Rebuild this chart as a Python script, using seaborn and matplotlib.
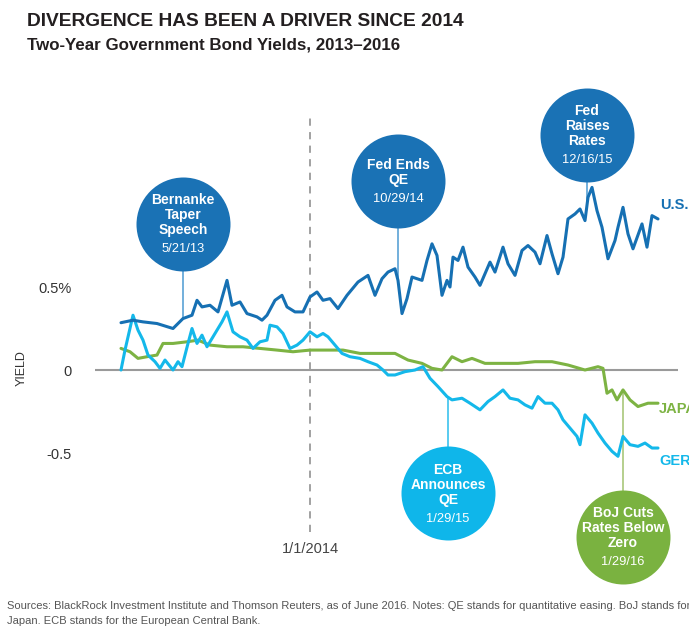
import matplotlib
matplotlib.use("Agg")
import matplotlib.pyplot as plt
import seaborn as sns
import numpy as np
import pandas as pd

# ---------------- data (time axis in relative units, 0 = start of 2013) -------------
us_t = [0, 12, 22, 36, 52, 62, 71, 76, 81, 89, 97, 106, 111, 119, 126, 136, 141, 146,
        154, 161, 166, 174, 182, 189, 196, 202, 209, 217, 226, 237, 247, 254, 261, 267,
        274, 277, 281, 286, 291, 301, 306, 311, 316, 321, 326, 329, 332, 337, 342, 347,
        354, 359, 364, 369, 374, 382, 387, 394, 401, 407, 414, 419, 426, 431, 437, 442,
        447, 454, 459, 464, 467, 471, 476, 481, 487, 494, 497, 502, 507, 512, 521, 526,
        531, 537]
us_yield = [0.285, 0.30, 0.29, 0.28, 0.25, 0.31, 0.33, 0.42, 0.38, 0.39, 0.35, 0.54,
            0.39, 0.41, 0.34, 0.32, 0.30, 0.33, 0.42, 0.45, 0.38, 0.35, 0.35, 0.44, 0.47,
            0.42, 0.43, 0.37, 0.45, 0.53, 0.57, 0.45, 0.55, 0.59, 0.61, 0.54, 0.34, 0.43,
            0.56, 0.54, 0.66, 0.76, 0.69, 0.45, 0.54, 0.50, 0.68, 0.66, 0.74, 0.62, 0.56,
            0.51, 0.58, 0.65, 0.59, 0.74, 0.64, 0.57, 0.72, 0.75, 0.71, 0.64, 0.81, 0.70,
            0.58, 0.68, 0.91, 0.94, 0.97, 0.90, 1.04, 1.10, 0.96, 0.86, 0.67, 0.78, 0.86,
            0.98, 0.82, 0.73, 0.88, 0.74, 0.93, 0.91]

de_t = [0, 4, 12, 17, 22, 27, 34, 39, 44, 52, 57, 61, 67, 71, 76, 81, 86, 92, 101, 106,
        112, 119, 126, 132, 139, 146, 149, 156, 162, 169, 176, 182, 189, 196, 202, 207,
        214, 221, 229, 239, 247, 256, 262, 267, 274, 284, 294, 302, 309, 317, 326, 331,
        341, 349, 359, 367, 374, 382, 389, 397, 404, 411, 417, 424, 431, 437, 442, 449,
        456, 459, 464, 471, 477, 484, 491, 497, 502, 509, 517, 524, 531, 537]
de_yield = [0.0, 0.12, 0.33, 0.24, 0.18, 0.09, 0.05, 0.01, 0.06, 0.0, 0.05, 0.02, 0.16,
            0.25, 0.16, 0.21, 0.14, 0.20, 0.29, 0.35, 0.23, 0.20, 0.18, 0.13, 0.17, 0.18,
            0.27, 0.26, 0.22, 0.13, 0.15, 0.18, 0.23, 0.20, 0.22, 0.20, 0.15, 0.10, 0.08,
            0.07, 0.05, 0.03, 0.0, -0.03, -0.03, -0.01, 0.0, 0.02, -0.05, -0.10, -0.16,
            -0.18, -0.17, -0.20, -0.24, -0.19, -0.16, -0.12, -0.17, -0.18, -0.21, -0.23,
            -0.16, -0.20, -0.20, -0.24, -0.30, -0.35, -0.40, -0.45, -0.27, -0.32, -0.38,
            -0.44, -0.49, -0.52, -0.40, -0.45, -0.46, -0.44, -0.47, -0.47]

jp_t = [0, 9, 17, 26, 36, 42, 52, 66, 77, 89, 106, 122, 139, 156, 172, 189, 206, 222,
        239, 256, 267, 274, 287, 301, 311, 321, 331, 341, 351, 364, 381, 397, 414, 431,
        447, 464, 477, 482, 486, 491, 496, 502, 509, 517, 527, 537]
jp_yield = [0.13, 0.11, 0.07, 0.08, 0.09, 0.16, 0.16, 0.17, 0.18, 0.15, 0.14, 0.14, 0.13,
            0.12, 0.11, 0.12, 0.12, 0.12, 0.10, 0.10, 0.10, 0.10, 0.06, 0.04, 0.01, 0.0,
            0.08, 0.05, 0.07, 0.04, 0.04, 0.04, 0.05, 0.05, 0.03, 0.0, 0.02, 0.01, -0.14,
            -0.12, -0.18, -0.12, -0.18, -0.22, -0.20, -0.20]

countries = ["JAPAN", "GERMANY", "U.S."]
y_ticks = [0.5, 0, -0.5]
y_tick_labels = ["0.5%", "0", "-0.5"]
divider_t = 189
divider_label = "1/1/2014"

event_titles = ["Bernanke\nTaper\nSpeech", "Fed Ends\nQE", "Fed\nRaises\nRates",
                "ECB\nAnnounces\nQE", "BoJ Cuts\nRates Below\nZero"]
event_dates = ["5/21/13", "10/29/14", "12/16/15", "1/29/15", "1/29/16"]
event_t = [62, 277, 466, 327, 502]
event_series = ["U.S.", "U.S.", "U.S.", "GERMANY", "JAPAN"]

# ---------------- styling ----------------
US_C = "#1670b3"
DE_C = "#14b8ea"
JP_C = "#7db343"
palette = {"U.S.": US_C, "GERMANY": DE_C, "JAPAN": JP_C}
circle_color = {"U.S.": "#1a72b5", "GERMANY": "#0fb6ea", "JAPAN": "#7ab240"}
stem_color = {"U.S.": "#5aa2d6", "GERMANY": "#3cc2ee", "JAPAN": "#a9c77a"}
circle_y = [0.88, 1.14, 1.416, -0.741, -1.006]

sns.set_theme(style="white")
plt.rcParams["font.family"] = ["Liberation Sans", "DejaVu Sans"]

W, H = 689, 643
fig = plt.figure(figsize=(W / 100, H / 100), dpi=100)
ax = fig.add_axes([95 / W, 48 / H, 583 / W, 535 / H])

series = {"U.S.": (us_t, us_yield), "GERMANY": (de_t, de_yield), "JAPAN": (jp_t, jp_yield)}
frames = [pd.DataFrame({"t": series[c][0], "yield": series[c][1], "country": c})
          for c in countries]
df = pd.concat(frames, ignore_index=True)

sns.lineplot(data=df, x="t", y="yield", hue="country", hue_order=countries,
             palette=palette, estimator=None, linewidth=2.2, legend=False, ax=ax,
             zorder=3)

ax.axhline(0, color="#9a9a9a", lw=1.5, zorder=1)
ax.vlines(divider_t, -0.976, 1.518, colors="#9a9a9a", lw=1.3,
          linestyles=(0, (4, 3.5)), zorder=1)
ax.text(divider_t, -1.078, divider_label, ha="center", va="center",
        fontsize=10.5, color="#444444")

ax.set_xlim(-26, 557)
ax.set_ylim(-1.3554, 1.8675)
ax.set_xticks([])
ax.set_yticks(y_ticks)
ax.set_yticklabels(y_tick_labels)
ax.tick_params(axis="y", length=0, pad=17, labelsize=10.5, labelcolor="#333333")
ax.set_xlabel("")
ax.set_ylabel("")
sns.despine(ax=ax, left=True, bottom=True)
ax.grid(False)

# event callouts
r_pt = 47 * 0.72
for title, date, t, ser, cy in zip(event_titles, event_dates, event_t, event_series, circle_y):
    st, sy = series[ser]
    target = np.interp(t, st, sy)
    ax.plot([t, t], [cy, target], color=stem_color[ser], lw=1.2, zorder=2,
            solid_capstyle="butt")
    ax.scatter([t], [cy], s=(2 * r_pt) ** 2, color=circle_color[ser], linewidths=0,
               zorder=5, clip_on=False)
    lines = title.split("\n")
    n = len(lines)
    first = -((n - 1) * 15 + 19) / 2 + 1
    for i, ln in enumerate(lines):
        off = first + i * 15
        ax.annotate(ln, xy=(t, cy), xytext=(0, -off * 0.72), textcoords="offset points",
                    ha="center", va="center", color="white", fontsize=10,
                    fontweight="bold", zorder=6)
    off = first + (n - 1) * 15 + 19
    ax.annotate(date, xy=(t, cy), xytext=(0, -off * 0.72), textcoords="offset points",
                ha="center", va="center", color="white", fontsize=9.3, zorder=6)

# series labels (cut at the right edge, as in the original)
ax.text(539, 0.994, "U.S.", color=US_C, fontsize=10.5, fontweight="bold",
        ha="left", va="center", clip_on=False)
ax.text(538, -0.235, "JAPAN", color=JP_C, fontsize=10.5, fontweight="bold",
        ha="left", va="center", clip_on=False)
ax.text(538, -0.548, "GERMANY", color=DE_C, fontsize=10.5, fontweight="bold",
        ha="left", va="center", clip_on=False)

# titles & notes
fig.text(27 / W, 1 - 26 / H, "DIVERGENCE HAS BEEN A DRIVER SINCE 2014",
         fontsize=13.8, fontweight="bold", color="#231f20", ha="left", va="baseline")
fig.text(27 / W, 1 - 50 / H, "Two-Year Government Bond Yields, 2013\u20132016",
         fontsize=12.2, fontweight="bold", color="#231f20", ha="left", va="baseline")
fig.text(22 / W, 1 - 368 / H, "YIELD", rotation=90, ha="center", va="center",
         fontsize=9, color="#333333")
fig.text(7 / W, 1 - 606 / H,
         "Sources: BlackRock Investment Institute and Thomson Reuters, as of June 2016. "
         "Notes: QE stands for quantitative easing. BoJ stands for the Bank of",
         fontsize=8, color="#555555", ha="left", va="center")
fig.text(7 / W, 1 - 621 / H, "Japan. ECB stands for the European Central Bank.",
         fontsize=8, color="#555555", ha="left", va="center")

fig.savefig("out.png", dpi=100)
